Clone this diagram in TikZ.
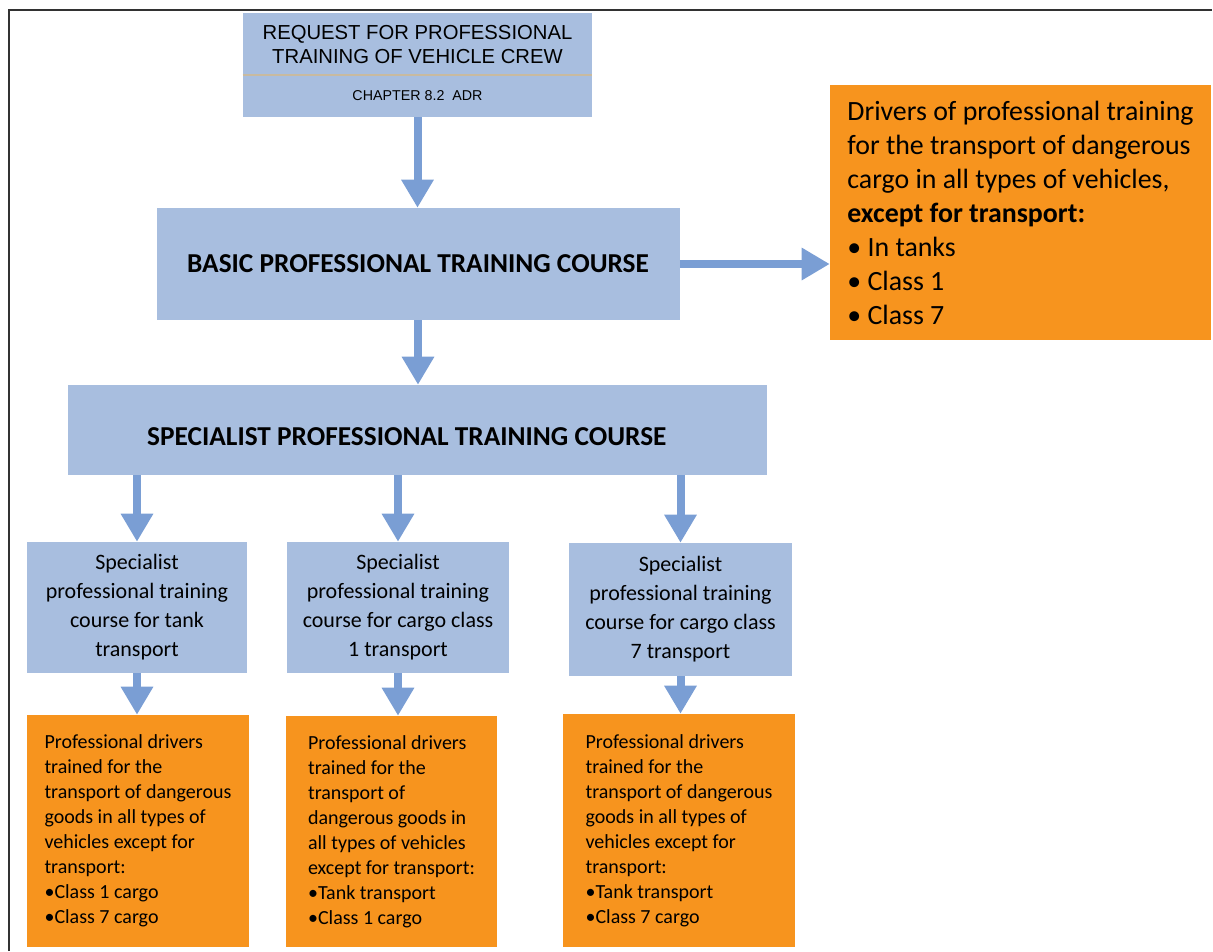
\documentclass[tikz,border=0pt]{standalone}
\usepackage{fontspec}
\setmainfont{Carlito}
\newfontfamily\arialfont{Liberation Sans}
\usepackage{tikz}
\usetikzlibrary{arrows.meta}
\definecolor{boxblue}{RGB}{168,190,223}
\definecolor{arrowblue}{RGB}{122,158,212}
\definecolor{boxorange}{RGB}{247,148,30}
\definecolor{divgray}{RGB}{200,186,160}
\definecolor{framegray}{RGB}{50,50,50}
\tikzset{bluebox/.style = {fill=boxblue, inner sep=0, align=center}}
\tikzset{orangebox/.style = {fill=boxorange, inner sep=0, align=left}}
\tikzset{flow/.style = {arrowblue, line width=6pt, -{Triangle[width=23pt,length=21pt]}}}
\begin{document}
\begin{tikzpicture}[x=0.75pt,y=-0.75pt]
        \useasboundingbox (0,0) rectangle (1213,951);
        \draw [framegray,line width=1.5pt] (9,951) -- (9,10) -- (1212,10);
        % request box
        \node [bluebox,minimum width=261.75pt,minimum height=48pt,font=\arialfont\fontsize{15.2}{17.5}\selectfont] (req) at (417.5,44.5) {REQUEST FOR PROFESSIONAL\\TRAINING OF VEHICLE CREW};
        \node [bluebox,minimum width=261.75pt,minimum height=31.5pt,font=\arialfont\fontsize{10.7}{12}\selectfont] (chap) at (417.5,96) {CHAPTER 8.2\ \ ADR};
        \draw [divgray,line width=1.5pt] (chap.north west) -- (chap.north east);
        % courses
        \node [bluebox,minimum width=392.25pt,minimum height=84pt,font=\bfseries\fontsize{20.5}{24}\selectfont] (basic) at (418,264) {BASIC PROFESSIONAL TRAINING COURSE};
        \node [bluebox,minimum width=524.25pt,minimum height=67.5pt,text height=23.7pt,font=\bfseries\fontsize{20.5}{24}\selectfont] (spec) at (417.5,430) {SPECIALIST PROFESSIONAL TRAINING COURSE\hspace*{16pt}};
        \node [orangebox,minimum width=285.75pt,minimum height=191.25pt,font=\fontsize{20.9}{25.5}\selectfont] (drv) at (1020.5,212.5) {Drivers of professional training\\for the transport of dangerous\\cargo in all types of vehicles,\\\textbf{except for transport:}\\• In tanks\\• Class 1\\• Class 7};
        \node [bluebox,minimum width=165pt,minimum height=98.25pt,font=\fontsize{16.5}{21.75}\selectfont] (b1) at (137,607.5) {Specialist\\professional training\\course for tank\\transport};
        \node [bluebox,minimum width=166.5pt,minimum height=98.25pt,font=\fontsize{16.5}{21.75}\selectfont] (b2) at (398,607.5) {Specialist\\professional training\\course for cargo class\\1 transport};
        \node [bluebox,minimum width=167.25pt,minimum height=99.75pt,font=\fontsize{16.5}{21.75}\selectfont] (b3) at (680.5,609.5) {Specialist\\professional training\\course for cargo class\\7 transport};
        \node [orangebox,minimum width=166.5pt,minimum height=174pt,font=\fontsize{15}{18.75}\selectfont] (o1) at (138,831) {Professional drivers\\trained for the\\transport of dangerous\\goods in all types of\\vehicles except for\\transport:\\•Class 1 cargo\\•Class 7 cargo};
        \node [orangebox,minimum width=158.25pt,minimum height=173.25pt,font=\fontsize{15}{18.75}\selectfont] (o2) at (391.5,831.5) {Professional drivers\\trained for the\\transport of\\dangerous goods in\\all types of vehicles\\except for transport:\\•Tank transport\\•Class 1 cargo};
        \node [orangebox,minimum width=174pt,minimum height=174.75pt,font=\fontsize{15}{18.75}\selectfont] (o3) at (679,830.5) {Professional drivers\\trained for the\\transport of dangerous\\goods in all types of\\vehicles except for\\transport:\\•Tank transport\\•Class 7 cargo};
        % arrows
        \draw [flow] (chap.south) -- (chap.south |- basic.north);
        \draw [flow] (basic.east) -- (basic.east -| drv.west);
        \draw [flow] (basic.south) -- (basic.south |- spec.north);
        \draw [flow] (spec.south -| b1.north) -- (b1.north);
        \draw [flow] (spec.south -| b2.north) -- (b2.north);
        \draw [flow] (spec.south -| b3.north) -- (b3.north);
        \draw [flow] (b1.south) -- (b1.south |- o1.north);
        \draw [flow] (b2.south) -- (b2.south |- o2.north);
        \draw [flow] (b3.south) -- (b3.south |- o3.north);
    \end{tikzpicture}
\end{document}
